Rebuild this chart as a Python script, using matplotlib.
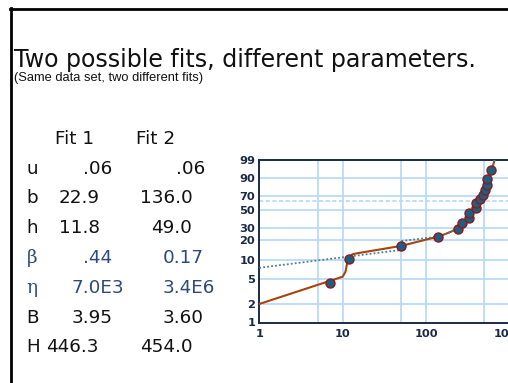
import numpy as np
import matplotlib
matplotlib.use('Agg')
import matplotlib.pyplot as plt
from matplotlib.lines import Line2D

W, H = 508, 383

# data points: time vs median rank (%)
times = [7, 12, 50, 139, 240, 269, 326, 331, 392, 395, 447, 482, 509, 538, 538, 607]
ranks = [4.3, 10.4, 16.5, 22.6, 28.7, 34.8, 40.9, 47.0, 53.0, 59.1, 65.2, 71.3, 77.4, 83.5, 89.6, 95.7]

# fit 1 (solid)
fit1_x = [1, 10, 10.8, 11.3, 12, 13, 15, 50, 139, 170, 200, 240, 270, 300, 330,
          360, 400, 440, 480, 520, 560, 600, 640, 680, 720]
fit1_y = [2.0, 5.5, 6.6, 8.9, 10.4, 12.3, 12.8, 16.5, 22.6, 24.6, 26.6, 29.6, 34, 39, 45,
          51, 58, 66, 73, 81, 88, 94, 98, 99.5, 99.9]

# fit 2 (dotted)
fit2_x = [1, 49, 51, 139, 170, 200, 240, 270, 300, 330,
          360, 400, 440, 480, 520, 560, 600, 640, 680, 720]
fit2_y = [7.6, 14.3, 19.5, 22.6, 24.6, 26.6, 29.6, 34, 39, 45,
          51, 58, 66, 73, 81, 88, 94, 98, 99.5, 99.9]

char_life = 63.2

x_ticks = [1, 10, 100, 1000]
x_grid = [5, 10, 50, 100, 500]
y_ticks = [1, 2, 5, 10, 20, 30, 50, 70, 90, 99]

# parameter table
row_names = ['u', 'b', 'h', 'β', 'η', 'B', 'H']
fit1_vals = ['.06', '22.9', '11.8', '.44', '7.0E3', '3.95', '446.3']
fit2_vals = ['.06', '136.0', '49.0', '0.17', '3.4E6', '3.60', '454.0']

fig = plt.figure(figsize=(W / 100, H / 100), dpi=100)
fig.patch.set_facecolor('white')


def fx(px):
    return px / W


def fy(py):
    return 1 - py / H


# slide frame (left and top edges)
fig.add_artist(Line2D([fx(11.3), fx(11.3)], [fy(7.5), fy(H + 5)], color='black', lw=2.0))
fig.add_artist(Line2D([fx(10.3), fx(W + 5)], [fy(8.6), fy(8.6)], color='black', lw=2.0))

font = 'DejaVu Sans'
txt = '#111111'
blue = '#2E4A78'

renderer = fig.canvas.get_renderer()


def fit_text(t, target):
    w = t.get_window_extent(renderer).width
    t.set_fontsize(t.get_fontsize() * target / w)


title = fig.text(fx(13.5), fy(67.5), 'Two possible fits, different parameters.',
                 fontsize=14, family=font, color=txt, va='baseline')
fit_text(title, 466)
sub = fig.text(fx(13.5), fy(80.5), '(Same data set, two different fits)',
               fontsize=8, family='Liberation Sans', color=txt, va='baseline')
fit_text(sub, 191)

tsize = 13.2
base0 = 143.8
step = 29.8
fig.text(fx(55), fy(base0), 'Fit 1', fontsize=tsize, family=font, color=txt, va='baseline')
fig.text(fx(136.5), fy(base0), 'Fit 2', fontsize=tsize, family=font, color=txt, va='baseline')

x1 = [83, 59, 59, 83, 71.5, 71.5, 46.5]
x2 = [176, 140, 151.5, 163, 163, 163, 140]
for i, (nm, v1, v2) in enumerate(zip(row_names, fit1_vals, fit2_vals)):
    yb = fy(base0 + step * (i + 1))
    col = blue if nm in ('β', 'η') else txt
    fam = 'DejaVu Serif' if nm in ('β', 'η') else font
    fig.text(fx(26.5), yb, nm, fontsize=tsize, family=fam, color=col, va='baseline')
    fig.text(fx(x1[i]), yb, v1, fontsize=tsize, family=font, color=col, va='baseline')
    fig.text(fx(x2[i]), yb, v2, fontsize=tsize, family=font, color=col, va='baseline')

# probability plot
left, right, top, bottom = 259.3, 509.5, 160.0, 322.5
ax = fig.add_axes([fx(left), fy(bottom), (right - left) / W, (bottom - top) / H])


def fwd(p):
    p = np.clip(np.asarray(p, dtype=float), 1e-6, 100 - 1e-9)
    return np.log(-np.log(1 - p / 100))


def inv(w):
    return 100 * (1 - np.exp(-np.exp(w)))


ax.set_xscale('log')
ax.set_yscale('function', functions=(fwd, inv))
ax.set_xlim(1, 1000)
ax.set_ylim(1, 99)

grid_col = '#B5D8F7'
for g in x_grid:
    ax.axvline(g, color=grid_col, lw=1.2, zorder=1)
for g in y_ticks[1:-1]:
    ax.axhline(g, color=grid_col, lw=1.2, zorder=1)
ax.axhline(char_life, color='#B5D8F7', lw=1.2, ls=(0, (2.5, 1.5)), zorder=1)

ax.plot(fit1_x, fit1_y, color='#A8430F', lw=1.5, zorder=3)
ax.plot(fit2_x, fit2_y, color='#4D7D8C', lw=1.3, ls=(0, (1, 1.2)), zorder=4)
ax.plot(times, ranks, 'o', ms=6.5, mfc='#1E5E80', mec='#8B1A1A', mew=1.0, zorder=5)

navy = '#1B2A44'
ax.set_xticks(x_ticks)
ax.set_xticklabels([str(v) for v in x_ticks])
ax.minorticks_off()
ax.set_yticks(y_ticks)
ax.set_yticklabels([str(v) for v in y_ticks])
ax.tick_params(axis='both', length=0, labelsize=8.2, labelcolor=navy)
ax.tick_params(axis='y', pad=3)
ax.tick_params(axis='x', pad=5)
for lab in ax.get_xticklabels() + ax.get_yticklabels():
    lab.set_fontweight('bold')
    lab.set_family('DejaVu Sans')

for s in ['left', 'bottom', 'top']:
    ax.spines[s].set_color(navy)
    ax.spines[s].set_linewidth(1.4)
ax.spines['right'].set_visible(False)

fig.savefig('out.png', dpi=100)
